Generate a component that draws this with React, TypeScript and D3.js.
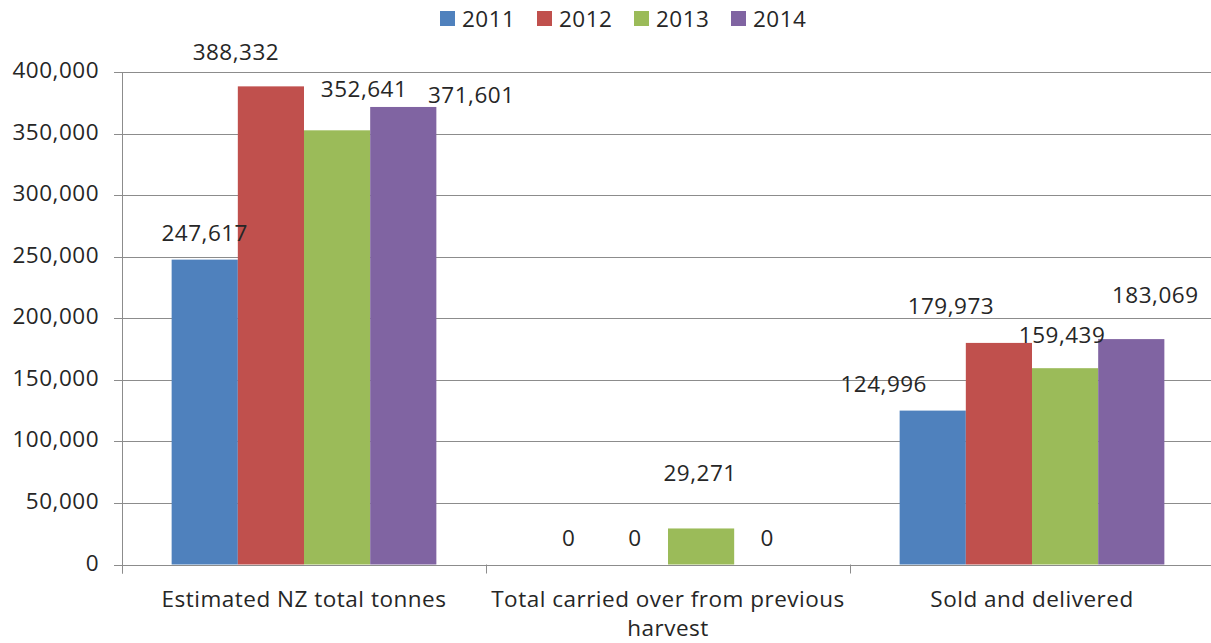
import React from "react";
import * as d3 from "d3";

// Kiwifruit tonnage by season
const categories = [
  "Estimated NZ total tonnes",
  "Total carried over from previous harvest",
  "Sold and delivered",
];
const seasons = ["2011", "2012", "2013", "2014"];
const values2011 = [247617, 0, 124996];
const values2012 = [388332, 0, 179973];
const values2013 = [352641, 29271, 159439];
const values2014 = [371601, 0, 183069];
const yTicks = [0, 50000, 100000, 150000, 200000, 250000, 300000, 350000, 400000];

const seriesValues = [values2011, values2012, values2013, values2014];
const colors = ["#4F81BD", "#C0504D", "#9BBB59", "#8064A2"];

// Nudges for labels that were pulled aside so they don't collide: [series][category] -> [dx, dy]
const labelNudge: [number, number][][] = [
  [[0, 0], [0, 0], [-49, 0]],
  [[-35, -7], [0, 0], [-48, -10]],
  [[27, -14], [-1, -28], [-3, -6]],
  [[68, 15], [0, 0], [24, -17]],
];

const W = 1211;
const H = 643;
const left = 122;
const right = 1214;
const top = 72;
const bottom = 564.5;
const font = "'Open Sans', 'Noto Sans', sans-serif";
const fontSize = 22.5;
const spacing = 0.5;
const textColor = "#262626";
const gridColor = "#8c8c8c";

export default function App() {
  const x0 = d3.scaleBand<string>().domain(categories).range([left, right]).padding(0);
  const bw = x0.bandwidth();
  const barW = bw / 5.5;
  const x1 = d3
    .scaleBand<string>()
    .domain(seasons)
    .range([barW * 0.75, bw - barW * 0.75])
    .padding(0);
  const y = d3.scaleLinear().domain([0, 400000]).range([bottom, top]);
  const fmt = d3.format(",");

  const wrapLabel = (s: string) =>
    s === "Total carried over from previous harvest"
      ? ["Total carried over from previous", "harvest"]
      : [s];

  return (
    <svg
      width={W}
      height={H}
      style={{ position: "absolute", left: 0, top: 0, background: "#fff" }}
      fontFamily={font}
      fontSize={fontSize}
      letterSpacing={spacing}
    >
      {/* gridlines */}
      {yTicks.map((t) => (
        <line
          key={"g" + t}
          x1={left - 8}
          x2={W}
          y1={Math.round(y(t)) + 0.5}
          y2={Math.round(y(t)) + 0.5}
          stroke={gridColor}
          strokeWidth={1}
        />
      ))}
      {/* y axis line */}
      <line x1={left + 0.5} x2={left + 0.5} y1={top} y2={bottom + 9} stroke={gridColor} />
      {/* x tick marks at category boundaries */}
      {[...categories.map((c) => x0(c) as number), right].map((xv, i) => (
        <line
          key={"xt" + i}
          x1={Math.round(xv) + 0.5}
          x2={Math.round(xv) + 0.5}
          y1={bottom}
          y2={bottom + 9}
          stroke={gridColor}
        />
      ))}
      {/* y tick labels */}
      {yTicks.map((t) => (
        <text key={"yl" + t} x={99} y={y(t) + 6} textAnchor="end" fill={textColor}>
          {fmt(t)}
        </text>
      ))}
      {/* bars */}
      {categories.map((c, ci) =>
        seasons.map((s, si) => {
          const v = seriesValues[si][ci];
          const bx = (x0(c) as number) + (x1(s) as number);
          return (
            <rect
              key={c + s}
              x={bx}
              y={y(v)}
              width={x1.bandwidth()}
              height={bottom - y(v)}
              fill={colors[si]}
            />
          );
        })
      )}
      {/* value labels */}
      {categories.map((c, ci) =>
        seasons.map((s, si) => {
          const v = seriesValues[si][ci];
          const cx = (x0(c) as number) + (x1(s) as number) + x1.bandwidth() / 2;
          const [dx, dy] = labelNudge[si][ci];
          return (
            <text
              key={"v" + c + s}
              x={cx + dx}
              y={y(v) - 19 + dy}
              textAnchor="middle"
              fill={textColor}
            >
              {fmt(v)}
            </text>
          );
        })
      )}
      {/* category labels */}
      {categories.map((c) => {
        const cx = (x0(c) as number) + bw / 2;
        return wrapLabel(c).map((line, li) => (
          <text key={c + li} x={cx} y={607 + li * 29} textAnchor="middle" fill={textColor}>
            {line}
          </text>
        ));
      })}
      {/* legend */}
      {seasons.map((s, i) => (
        <g key={"lg" + s} transform={`translate(${440 + i * 97},0)`}>
          <rect x={0} y={11} width={15} height={15} fill={colors[i]} />
          <text x={22} y={27} fill={textColor}>
            {s}
          </text>
        </g>
      ))}
    </svg>
  );
}
